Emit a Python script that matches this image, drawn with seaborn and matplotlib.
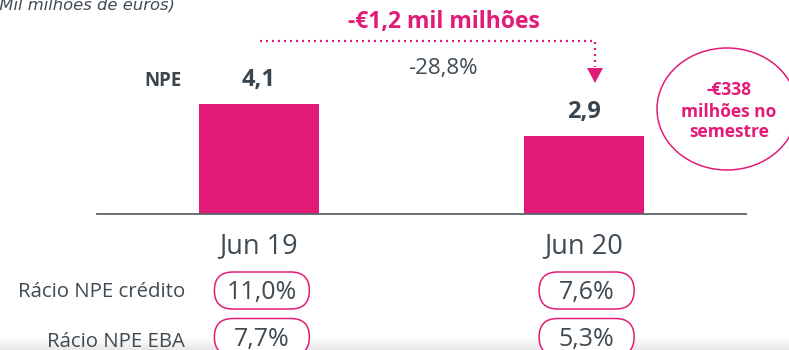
import matplotlib
matplotlib.use("Agg")
import matplotlib.pyplot as plt
import matplotlib.transforms as mtransforms
from matplotlib.patches import Ellipse, FancyBboxPatch, Polygon
import numpy as np
import pandas as pd
import seaborn as sns

# ---- data -------------------------------------------------------------
periods = ["Jun 19", "Jun 20"]
npe_values = [4.1, 2.9]                 # mil milhões de euros
npe_credit_ratio = [11.0, 7.6]          # %
npe_eba_ratio = [7.7, 5.3]              # %
row_labels = ["Rácio NPE crédito", "Rácio NPE EBA"]
change_abs = "-€1,2 mil milhões"
change_pct = -28.8
semester_note = ["-€338", "milhões no", "semestre"]
unit_note = "(Mil milhões de euros)"

PINK = "#E31B78"
SLATE = "#404A53"
AXIS_GREY = "#5A636C"


def pt_num(v, d=1):
    return f"{v:.{d}f}".replace(".", ",")


sns.set_theme(style="white")
plt.rcParams["font.family"] = ["Open Sans", "DejaVu Sans"]

W, H = 789, 350
fig = plt.figure(figsize=(W / 100, H / 100), dpi=100)
fig.patch.set_facecolor("white")

# ---- bars -------------------------------------------------------------
BASE_Y = 213.5          # baseline, pixels from the top
PX_PER_UNIT = 26.8
ax = fig.add_axes([96.5 / W, 1 - BASE_Y / H, (746 - 96.5) / W, BASE_Y / H])
df = pd.DataFrame({"period": periods, "npe": npe_values})
sns.barplot(data=df, x="period", y="npe", color=PINK, saturation=1,
            width=0.37, linewidth=0, ax=ax)
ax.set_xlim(-0.5, 1.5)
ax.set_ylim(0, BASE_Y / PX_PER_UNIT)
ax.set_facecolor("none")
for side in ("left", "right", "top"):
    ax.spines[side].set_visible(False)
ax.spines["bottom"].set_color(AXIS_GREY)
ax.spines["bottom"].set_linewidth(1.3)
ax.set_xticks([])
ax.set_yticks([])
ax.set_xlabel("")
ax.set_ylabel("")

# value labels above the bars
for i, v in enumerate(npe_values):
    ax.annotate(pt_num(v), (i, v), xytext=(0, 13), textcoords="offset points",
                ha="center", va="baseline", fontsize=17, fontweight="bold",
                color="#3B454E")

# ---- overlay in pixel coordinates -------------------------------------
ov = fig.add_axes([0, 0, 1, 1], zorder=3)
ov.patch.set_alpha(0)
ov.axis("off")
mix = mtransforms.blended_transform_factory(ax.transData, ov.transData)

# soft grey band along the bottom edge
n = 40
shade = np.linspace(0, 1, n)[:, None, None]
band = (1 - shade * 0.09) * np.ones((n, 1, 3))
ov.imshow(band, extent=(0, W, H, 337), aspect="auto", zorder=0,
          interpolation="bilinear")
ov.set_xlim(0, W)
ov.set_ylim(H, 0)

# unit note (cut at the top edge)
ov.text(-7, 9, unit_note, ha="left", va="baseline", fontsize=11.8,
        style="italic", color=SLATE, family=["DejaVu Sans"])

# series label
ov.text(182, 86, "NPE", ha="right", va="baseline", fontsize=13.5,
        fontweight="bold", color="#3B454E")

# category labels
for i, p in enumerate(periods):
    ov.text(i, 253, p, transform=mix, ha="center", va="baseline",
            fontsize=19.5, color=SLATE)

# change between periods
ov.text(444, 28, change_abs, ha="center", va="baseline", fontsize=16.5,
        fontweight="bold", color=PINK)
ov.text(443, 74, pt_num(change_pct) + "%", ha="center", va="baseline",
        fontsize=16, color=SLATE)
ov.plot([260, 595, 595], [40.7, 40.7, 67], color=PINK, lw=1.6,
        linestyle=(0, (0.9, 1.8)), solid_capstyle="butt")
ov.add_patch(Polygon([(587, 68), (603, 68), (595, 83)], closed=True,
                     facecolor=PINK, edgecolor="none"))

# semester note in an ellipse
ov.add_patch(Ellipse((727, 109), 140, 122, fill=False, edgecolor=PINK, lw=1.1))
for line, yb in zip(semester_note, [95, 117, 137]):
    ov.text(729, yb, line, ha="center", va="baseline", fontsize=12.5,
            fontweight="bold", color=PINK)

# ratio rows with rounded pills
rows = [(npe_credit_ratio, 290.5, 297, 299.5), (npe_eba_ratio, 337, 347, 346)]
for (vals, yc, yl, yt), label in zip(rows, row_labels):
    ov.text(185, yl, label, ha="right", va="baseline", fontsize=14.7,
            color=SLATE)
    for i, v in enumerate(vals):
        cx = ax.transData.transform((i, 0))[0] + 3
        ov.add_patch(FancyBboxPatch((cx - 47.5, yc - 18.5), 95, 37,
                                    boxstyle="round,pad=0,rounding_size=18.5",
                                    facecolor="white", edgecolor=PINK,
                                    lw=1.1, zorder=2))
        ov.text(cx, yt, pt_num(v) + "%", ha="center", va="baseline",
                fontsize=18, color=SLATE, zorder=3)

fig.savefig("out.png", dpi=100, facecolor="white")
